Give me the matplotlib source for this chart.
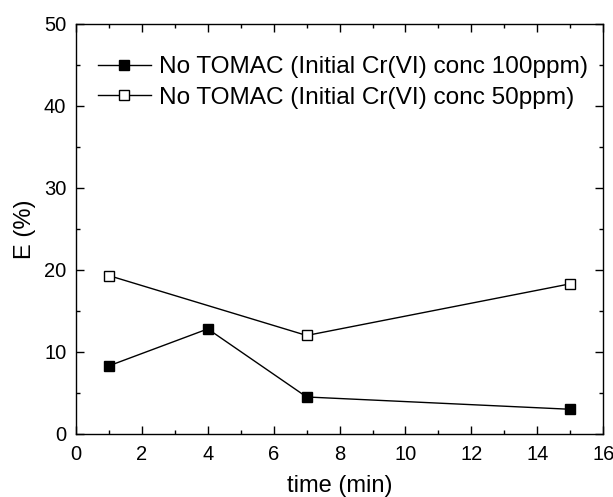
import matplotlib
matplotlib.use("Agg")
import matplotlib.pyplot as plt
from matplotlib.ticker import MultipleLocator

plt.rcParams['font.family'] = ['Liberation Sans', 'DejaVu Sans']

# data
time_100 = [1, 4, 7, 15]
e_100 = [8.3, 12.8, 4.5, 3.0]
time_50 = [1, 7, 15]
e_50 = [19.3, 12.0, 18.3]
label_100 = 'No TOMAC (Initial Cr(VI) conc 100ppm)'
label_50 = 'No TOMAC (Initial Cr(VI) conc 50ppm)'

fig = plt.figure(figsize=(6.13, 4.97), dpi=100)
ax = fig.add_axes([0.124, 0.127, 0.86, 0.825])

ax.plot(time_100, e_100, color='black', lw=1, marker='s', ms=7,
        mfc='black', mec='black', label=label_100)
ax.plot(time_50, e_50, color='black', lw=1, marker='s', ms=7,
        mfc='white', mec='black', mew=1, label=label_50)

ax.set_xlim(0, 16)
ax.set_ylim(0, 50)
ax.xaxis.set_major_locator(MultipleLocator(2))
ax.xaxis.set_minor_locator(MultipleLocator(1))
ax.yaxis.set_major_locator(MultipleLocator(10))
ax.yaxis.set_minor_locator(MultipleLocator(5))
ax.tick_params(which='both', direction='in', top=True, right=True, width=1)
ax.tick_params(which='major', length=6, labelsize=14.5)
ax.tick_params(axis='x', which='major', pad=8)
ax.tick_params(axis='y', which='major', pad=7)
ax.tick_params(which='minor', length=3)
for s in ax.spines.values():
    s.set_linewidth(1)

ax.set_xlabel('time (min)', fontsize=17, labelpad=8)
ax.set_ylabel('E (%)', fontsize=17, labelpad=6)

ax.legend(loc='upper left', bbox_to_anchor=(0.0, 0.975), frameon=False,
          fontsize=17.6, handlelength=2.15, handletextpad=0.33,
          labelspacing=0.35, borderaxespad=0.5)

fig.savefig('out.png', dpi=100)
